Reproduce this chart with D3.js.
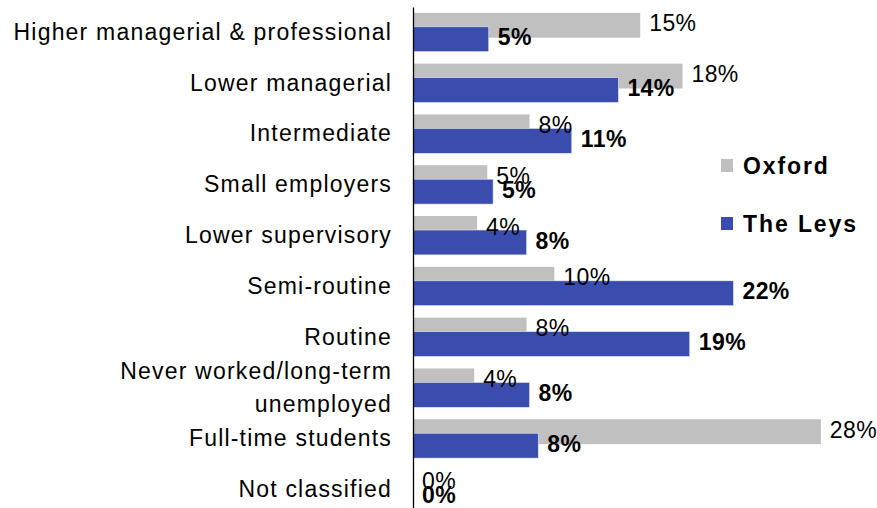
<!DOCTYPE html>
<html>
<head>
<meta charset="utf-8">
<script src="https://cdn.jsdelivr.net/npm/d3@7"></script>
<style>
  body { margin: 0; background: #fff; }
  text { font-family: "Liberation Sans", Arial, sans-serif; }
</style>
</head>
<body>
<script>
var width = 877, height = 508;

// categories, top to bottom
var categories = [
  "Higher managerial & professional",
  "Lower managerial",
  "Intermediate",
  "Small employers",
  "Lower supervisory",
  "Semi-routine",
  "Routine",
  "Never worked/long-term unemployed",
  "Full-time students",
  "Not classified"
];

// bar lengths
var oxford = [15.6, 18.5, 8.0, 5.1, 4.4, 9.7, 7.8, 4.2, 28.0, 0];
var leys   = [5.2, 14.1, 10.9, 5.5, 7.8, 22.0, 19.0, 8.0, 8.6, 0];

// printed data labels
var oxfordLabels = ["15%", "18%", "8%", "5%", "4%", "10%", "8%", "4%", "28%", "0%"];
var leysLabels   = ["5%", "14%", "11%", "5%", "8%", "22%", "19%", "8%", "8%", "0%"];

var seriesNames = ["Oxford", "The Leys"];
var colors = ["#c0c0c0", "#3a4daf"];

var axisX = 413,
    fontSize = 23,
    spacing = 1.1;

var x = d3.scaleLinear()
    .domain([0, 30])
    .range([axisX, axisX + 437]);

var y = d3.scaleBand()
    .domain(categories)
    .range([7, 515]);

var step = y.step();
var barH = step * 0.49;
var grayOff = step * 0.115;
var blueOff = grayOff + step * 0.275;

var svg = d3.select("body").append("svg")
    .attr("width", width)
    .attr("height", height);

// gray bars (Oxford) first, blue on top
svg.append("g").selectAll("rect")
    .data(categories)
    .enter().append("rect")
      .attr("x", x(0))
      .attr("y", function(d) { return y(d) + grayOff; })
      .attr("width", function(d, i) { return x(oxford[i]) - x(0); })
      .attr("height", barH)
      .attr("fill", colors[0]);

svg.append("g").selectAll("rect")
    .data(categories)
    .enter().append("rect")
      .attr("x", x(0))
      .attr("y", function(d) { return y(d) + blueOff; })
      .attr("width", function(d, i) { return x(leys[i]) - x(0); })
      .attr("height", barH)
      .attr("fill", colors[1])
      .attr("stroke", "#e8eaf6")
      .attr("stroke-width", 0.6);

// data labels
svg.append("g").selectAll("text")
    .data(categories)
    .enter().append("text")
      .attr("x", function(d, i) { return x(oxford[i]) + 9; })
      .attr("y", function(d) { return y(d) + grayOff + barH / 2 - 2; })
      .attr("dy", "0.35em")
      .attr("font-size", fontSize)
      .attr("letter-spacing", 0.4)
      .attr("fill", "#000")
      .text(function(d, i) { return oxfordLabels[i]; });

svg.append("g").selectAll("text")
    .data(categories)
    .enter().append("text")
      .attr("x", function(d, i) { return x(leys[i]) + 9; })
      .attr("y", function(d) { return y(d) + blueOff + barH / 2 - 2; })
      .attr("dy", "0.35em")
      .attr("font-size", fontSize)
      .attr("font-weight", "bold")
      .attr("letter-spacing", 0.4)
      .attr("fill", "#000")
      .text(function(d, i) { return leysLabels[i]; });

// category axis
var yAxis = svg.append("g")
    .attr("transform", "translate(" + axisX + ",0)")
    .call(d3.axisLeft(y).tickSize(0).tickPadding(21));

yAxis.select(".domain").attr("stroke", "#000").attr("stroke-width", 1.3);

yAxis.selectAll(".tick text")
    .attr("font-family", "Liberation Sans, Arial, sans-serif")
    .attr("font-size", fontSize)
    .attr("letter-spacing", 1.2)
    .attr("fill", "#000")
    .each(function(d) {
      if (d === "Never worked/long-term unemployed") {
        var t = d3.select(this).text(null);
        t.append("tspan").attr("x", -21).attr("dy", "-0.4em").text("Never worked/long-term");
        t.append("tspan").attr("x", -21).attr("dy", "1.45em").text("unemployed");
      }
    });

// legend
var legend = svg.append("g").selectAll("g")
    .data(seriesNames)
    .enter().append("g")
      .attr("transform", function(d, i) { return "translate(721," + (159 + i * 58) + ")"; });

legend.append("rect")
    .attr("width", 12)
    .attr("height", 13)
    .attr("fill", function(d, i) { return colors[i]; });

legend.append("text")
    .attr("x", 22)
    .attr("y", 6.5)
    .attr("dy", "0.35em")
    .attr("font-size", fontSize)
    .attr("font-weight", "bold")
    .attr("letter-spacing", 1.9)
    .text(function(d) { return d; });
</script>
</body>
</html>
